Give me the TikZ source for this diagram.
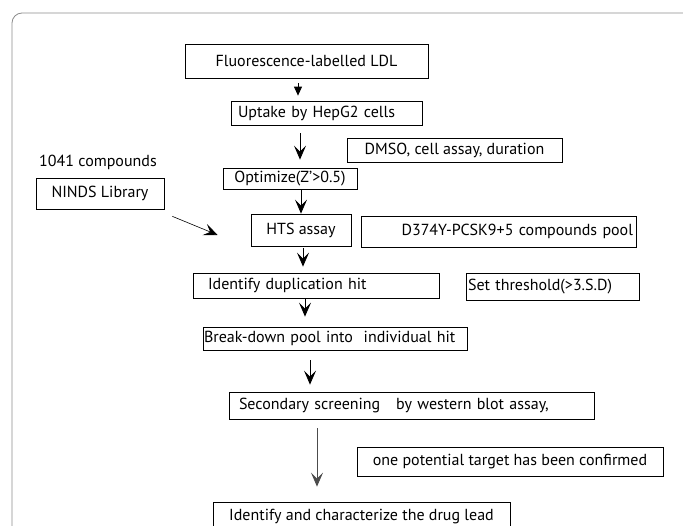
\documentclass[tikz,border=0pt]{standalone}
\usepackage{fontspec}
\setmainfont{PT Sans}
\usetikzlibrary{arrows.meta}

\begin{document}
\begin{tikzpicture}[x=1pt,y=-1pt,font=\fontsize{16}{18}\selectfont,
 box/.style={draw,line width=0.7pt,inner sep=0pt},
 lbox/.style={box,align=left},
 arr/.style={-{Stealth[length=14pt,width=12pt,inset=6pt]},line width=0.8pt},
 tri/.style={-{Triangle[length=9pt,width=8pt]},line width=0.8pt}]
\useasboundingbox (0,0) rectangle (683,526);
\clip (0,0) rectangle (683,526);
\draw[black!45,line width=0.8pt,rounded corners=10pt] (12,560) |- (720,13);
\node[box,minimum width=243pt,minimum height=34pt] (flu) at (306.5,61) {Fluorescence-labelled LDL};
\node[lbox,text width=177pt,inner xsep=7pt,minimum height=24pt] (uptake) at (326.5,113) {Uptake by HepG2 cells};
\node[box,minimum width=215pt,minimum height=24pt] (dmso) at (454.5,150) {DMSO, cell assay, duration};
\node (cmp) at (98,162) {1041 compounds};
\node[box,minimum width=134pt,minimum height=21pt] (opt) at (290,178.5) {Optimize(Z'>0.5)};
\node[box,minimum width=128pt,minimum height=31pt] (ninds) at (100,193.5) {NINDS Library};
\node[box,minimum width=100pt,minimum height=32pt] (hts) at (301,230) {HTS assay};
\node[box,align=right,text width=269pt,inner xsep=3pt,minimum height=31pt] (pool) at (498.5,231.5) {D374Y-PCSK9+5 compounds pool};
\node[lbox,text width=216pt,inner xsep=15pt,minimum height=25pt] (dup) at (316,285.5) {Identify duplication hit};
\node[lbox,text width=169pt,inner xsep=2pt,minimum height=27pt] (thr) at (552.5,286.5) {Set threshold(>3.S.D)};
\node[lbox,text width=262pt,inner xsep=1pt,minimum height=23pt] (brk) at (335,338.5) {Break-down pool into\ \ individual hit};
\node[lbox,text width=345pt,inner xsep=10pt,minimum height=27pt] (sec) at (411.5,405.5) {Secondary screening\ \ \ by western blot assay,};
\node[box,minimum width=306pt,minimum height=29pt] (conf) at (510,461.5) {one potential target has been confirmed};
\node[box,minimum width=297pt,minimum height=30pt] (lead) at (361.5,517) {Identify and characterize the drug lead};
% connectors
\coordinate (a1) at ([xshift=-8.5pt]flu.south);
\coordinate (a2) at ([xshift=-26.5pt]uptake.south);
\coordinate (a3) at ([xshift=11pt]opt.south);
\coordinate (a5) at ([xshift=2pt]hts.south);
\coordinate (a6) at ([xshift=-11pt]dup.south);
\coordinate (a7) at ([xshift=-25pt]brk.south);
\coordinate (a8) at ([xshift=-94.5pt]sec.south);
\coordinate (n1) at ([shift={(8pt,-7pt)}]ninds.south east);
\coordinate (n2) at ([shift={(-33pt,-5pt)}]hts.west);
\draw[tri,shorten <=5pt,shorten >=5pt] (a1) -- (a1 |- uptake.north);
\draw[arr,shorten <=8pt,shorten >=8pt] (a2) -- (a2 |- opt.north);
\draw[arr,shorten <=1pt] (a3) -- (a3 |- hts.north);
\draw[arr,line width=0.6pt] (n1) -- (n2);
\draw[arr,shorten <=2pt,shorten >=6pt] (a5) -- (a5 |- dup.north);
\draw[arr,shorten >=10pt] (a6) -- (a6 |- brk.north);
\draw[arr,shorten <=10pt,shorten >=7pt] (a7) -- (a7 |- sec.north);
\draw[arr,draw=black!70,shorten <=9pt,shorten >=15pt] (a8) -- (a8 |- lead.north);
\end{tikzpicture}
\end{document}
